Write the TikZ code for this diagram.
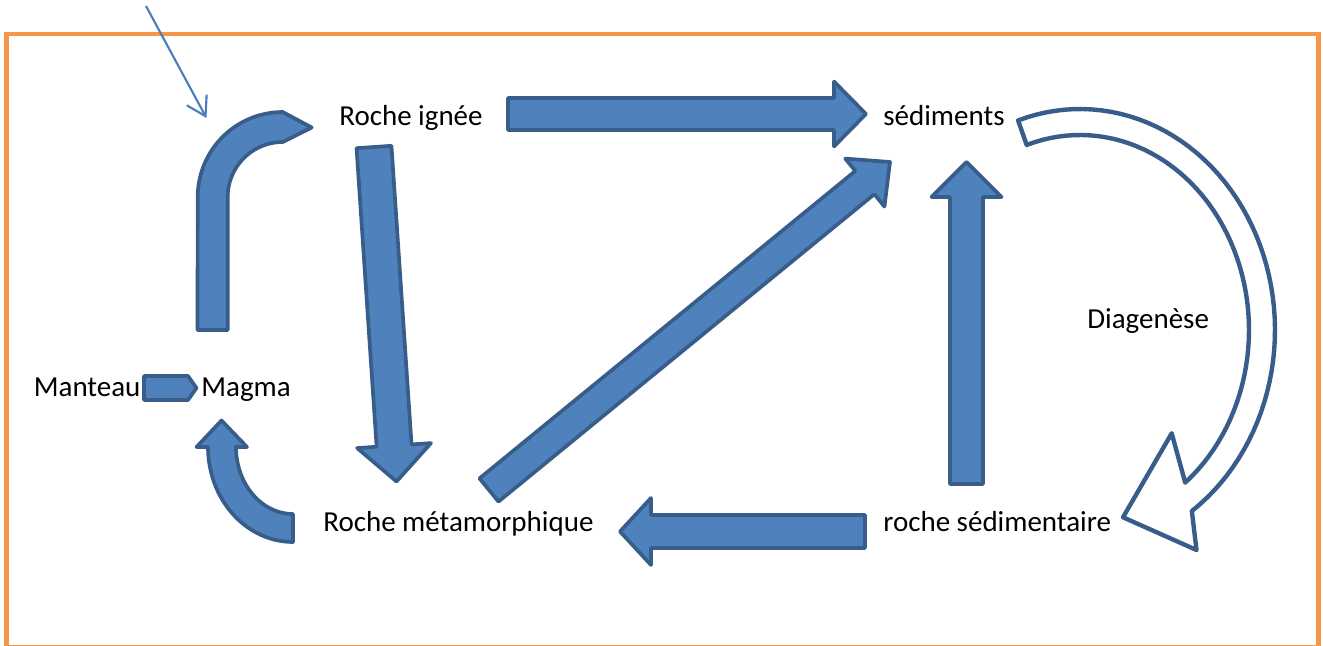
\documentclass[tikz,border=0pt]{standalone}
\usepackage{fontspec}
\setmainfont{Carlito}
\usetikzlibrary{calc,arrows.meta}
\definecolor{bleu}{HTML}{4F81BD}
\definecolor{bord}{HTML}{385D8A}
\definecolor{fil}{HTML}{4A7EBB}
\definecolor{cadre}{HTML}{F79646}
\newcommand{\bloc}[5]{%
\coordinate (hb) at ($#2!#5!#1$);
\draw[bloc] ($#1!#3!90:#2$) -- ($(hb)!#3!90:#2$) -- ($(hb)!#4!90:#2$) -- #2 -- ($(hb)!#4!-90:#2$) -- ($(hb)!#3!-90:#2$) -- ($#1!#3!-90:#2$) -- cycle;}

\begin{document}
\begin{tikzpicture}[x=0.02cm,y=-0.02cm,
  bloc/.style={fill=bleu,draw=bord,line width=2.1pt,line join=round},
  creux/.style={fill=white,draw=bord,line width=2.5pt,line join=round},
  roche/.style={anchor=base west,inner sep=0pt,font=\fontsize{16.5}{20}\selectfont}]
\useasboundingbox (0,0) rectangle (1323,646);
\draw[cadre,line width=2.3pt] (6.5,34) rectangle (1318.5,647);
\node[roche] (ign) at (339,125) {Roche ignée};
\node[roche] (sed) at (883,125) {sédiments};
\node[roche] (man) at (33.5,396.7) {Manteau};
\node[roche] (mag) at (201,396.7) {Magma};
\node[roche] (met) at (323,531.7) {Roche métamorphique};
\node[roche] (rsd) at (883,531.7) {roche sédimentaire};
\node[roche] (dia) at (1087,328.3) {Diagenèse};
\coordinate (ignA) at (508,114) ; \coordinate (sedA) at (866,114) ;
\coordinate (ignB) at (374,147) ; \coordinate (metB) at (396.5,481.5) ;
\coordinate (metC) at (489,490) ; \coordinate (sedC) at (890,162) ;
\coordinate (rsdD) at (966.5,484) ; \coordinate (sedD) at (966.5,162) ;
\coordinate (rsdE) at (865,531.5) ; \coordinate (metE) at (620,531.5) ;
\coordinate (manF) at (144,388) ; \coordinate (magF) at (196.5,388) ;
\bloc{(ignA)}{(sedA)}{3.2mm}{6.5mm}{6.4mm}
\bloc{(ignB)}{(metB)}{3.5mm}{7.4mm}{7.2mm}
\bloc{(metC)}{(sedC)}{3mm}{6.2mm}{6.5mm}
\bloc{(rsdD)}{(sedD)}{3.3mm}{7mm}{7mm}
\bloc{(rsdE)}{(metE)}{3.3mm}{6.7mm}{6.2mm}
\bloc{(manF)}{(magF)}{2.4mm}{2.4mm}{1.7mm}
\draw[bloc] (197.5,330) -- plot[domain=180:270,samples=30] ({282.7+85*cos(\x)},{197+85*sin(\x)}) -- (311.7,127.5) -- plot[domain=270:180,samples=30] ({282.7+55*cos(\x)},{197+55*sin(\x)}) -- (227.7,330) -- cycle ;
\draw[bloc] (293,542) -- plot[domain=90:180,samples=30] ({293+85*cos(\x)},{447+95*sin(\x)}) -- (196.5,447) -- (221.5,420.5) -- (247,447) -- plot[domain=180:90,samples=30] ({293+57*cos(\x)},{447+67*sin(\x)}) -- cycle ;
\draw[creux] plot[domain=-108.5:55,samples=60] ({1080+195*cos(\x)},{330+221*sin(\x)}) -- (1196.5,550) -- (1123,517.3) -- (1171.7,433.3) -- plot[domain=51.5:-108.4,samples=60] ({1080+169*cos(\x)},{330+195*sin(\x)}) -- cycle ;
\coordinate (fd) at (146,6) ; \coordinate (fa) at (206.5,118) ;
\draw[fil,line width=1.2pt,-{Straight Barb[length=3.7mm,width=4.5mm]}] (fd) -- (fa) ;
\end{tikzpicture}
\end{document}
